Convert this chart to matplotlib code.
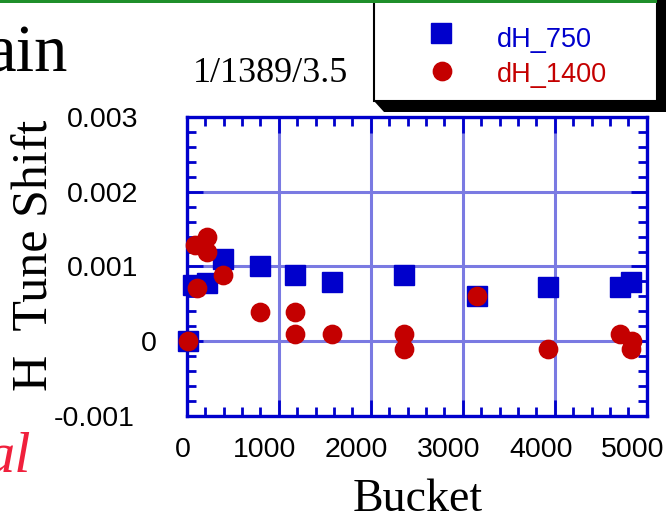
import matplotlib
matplotlib.use('Agg')
import matplotlib.pyplot as plt
from matplotlib.patches import Rectangle, Polygon
from matplotlib.lines import Line2D
from matplotlib.transforms import ScaledTranslation
from matplotlib.ticker import MultipleLocator

# ---- data ----
series_names = ['dH_750', 'dH_1400']
blue_x = [10, 70, 220, 390, 800, 1180, 1580, 2360, 3150, 3930, 4710, 4830]
blue_y = [0.0, 0.00075, 0.00078, 0.0011, 0.0010, 0.00089, 0.00079, 0.00089,
          0.00061, 0.00072, 0.00072, 0.00079]
red_x = [10, 90, 110, 217, 217, 398, 800, 1180, 1180, 1580, 2360, 2360,
         3150, 3930, 4710, 4837, 4826]
red_y = [0.0, 0.00129, 0.00071, 0.0014, 0.0012, 0.00089, 0.00039, 0.00039,
         0.0001, 0.0001, 0.0001, -0.0001, 0.0006, -0.00011, 0.0001, 0.0, -0.00011]
x_ticks = [0, 1000, 2000, 3000, 4000, 5000]
x_tick_labels = ['0', '1000', '2000', '3000', '4000', '5000']
y_ticks = [-0.001, 0.0, 0.001, 0.002, 0.003]
y_tick_labels = ['-0.001', '0', '0.001', '0.002', '0.003']

BLUE = '#0000CC'
RED = '#C40000'
GRID = '#7A7AE2'
SANS = 'Liberation Sans'
SERIF = 'Liberation Serif'

W, H = 666, 517
fig = plt.figure(figsize=(W / 100, H / 100), dpi=100)


def fx(x):
    return x / W


def fy(y):
    return 1 - y / H


L, R, T, B = 186.7, 646.7, 117.3, 415.7
ax = fig.add_axes([fx(L), fy(B), (R - L) / W, (B - T) / H])
ax.set_xlim(0, 5000)
ax.set_ylim(-0.001, 0.003)
ax.set_xticks(x_ticks)
ax.set_xticklabels(x_tick_labels, fontfamily=SANS, fontsize=20.5)
ax.set_yticks(y_ticks)
ax.set_yticklabels(y_tick_labels, fontfamily=SANS, fontsize=20.5)
ax.xaxis.set_minor_locator(MultipleLocator(200))
ax.yaxis.set_minor_locator(MultipleLocator(0.0002))
ax.tick_params(which='both', direction='in', top=True, right=True,
               colors=BLUE, labelcolor='black')
ax.tick_params(which='major', length=11.5, width=2.0)
ax.tick_params(which='minor', length=6.5, width=2.0)
ax.tick_params(axis='x', pad=15.5)
ax.tick_params(axis='y', pad=35)
for s in ax.spines.values():
    s.set_color(BLUE)
    s.set_linewidth(2.4)
ax.grid(True, which='major', color=GRID, lw=2.2)
ax.set_axisbelow(True)

# tick label offsets as in the reference
dpi_t = fig.dpi_scale_trans
for lab, txt in zip(ax.get_xticklabels(), x_tick_labels):
    dx = -4 if txt == '0' else -14
    lab.set_transform(lab.get_transform() + ScaledTranslation(dx / 100, 0, dpi_t))
for lab, txt in zip(ax.get_yticklabels(), y_tick_labels):
    dx = 19 if txt == '0' else (-3 if txt.startswith('-') else 0)
    lab.set_transform(lab.get_transform() + ScaledTranslation(dx / 100, 0, dpi_t))

ax.plot(blue_x, blue_y, ls='none', marker='s', ms=13.8, color=BLUE,
        mec=BLUE, clip_on=False, zorder=3)
ax.plot(red_x, red_y, ls='none', marker='o', ms=13.2, color=RED,
        mec=RED, clip_on=False, zorder=4)

# axis labels
fig.text(fx(418), fy(511), 'Bucket', fontfamily=SERIF, fontsize=33,
         ha='center', va='baseline')
fig.text(fx(47), fy(255), 'H  Tune Shift', fontfamily=SERIF, fontsize=36,
         rotation=90, rotation_mode='anchor', ha='center', va='baseline')

# other slide text
fig.text(fx(270.5), fy(81.7), '1/1389/3.5', fontfamily=SERIF, fontsize=26,
         ha='center', va='baseline')
fig.text(fx(68), fy(71.7), 'ain', fontfamily=SERIF, fontsize=48,
         ha='right', va='baseline')
fig.text(fx(31), fy(472), 'al', fontfamily=SERIF, fontsize=42, style='italic',
         color='#F0203C', ha='right', va='baseline')

# legend box with shadow
shadow = Polygon([(fx(374), fy(101)), (fx(384), fy(112)), (fx(700), fy(112)),
                  (fx(700), fy(-10)), (fx(374), fy(-10))], closed=True,
                 transform=fig.transFigure, fc='black', ec='none', zorder=5)
box = Rectangle((fx(374), fy(101)), (657 - 374) / W, 121 / H,
                transform=fig.transFigure, fc='white', ec='black', lw=1.5,
                zorder=6)
fig.add_artist(shadow)
fig.add_artist(box)
fig.add_artist(Line2D([fx(441)], [fy(33)], transform=fig.transFigure,
                      marker='s', ms=13.8, color=BLUE, ls='none', zorder=7))
fig.add_artist(Line2D([fx(441.7)], [fy(70.7)], transform=fig.transFigure,
                      marker='o', ms=13.2, color=RED, ls='none', zorder=7))
fig.text(fx(497), fy(46.7), series_names[0], fontfamily=SANS, fontsize=19.5,
         color=BLUE, ha='left', va='baseline', zorder=7)
fig.text(fx(497), fy(81.7), series_names[1], fontfamily=SANS, fontsize=19.5,
         color=RED, ha='left', va='baseline', zorder=7)

# green rule at the top of the slide
fig.add_artist(Rectangle((0, fy(3)), fx(657), 3 / H, transform=fig.transFigure,
                         fc='#1F8F2A', ec='none', zorder=8))

fig.savefig('out.png', dpi=100)
